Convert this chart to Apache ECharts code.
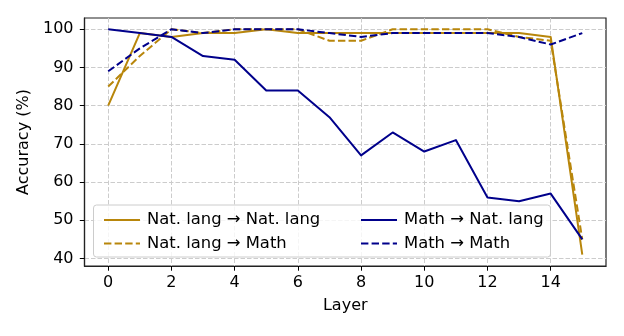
<!DOCTYPE html>
<html><head><meta charset="utf-8">
<script src="https://cdn.jsdelivr.net/npm/echarts@6/dist/echarts.min.js"></script>
<style>html,body{margin:0;padding:0;background:#fff}#c{width:624px;height:336px}</style>
</head><body><div id="c"></div>
<script>
const layers = [0,1,2,3,4,5,6,7,8,9,10,11,12,13,14,15];
const natToNat  = [80,99,98,99,99,100,99,99,99,99,99,99,99,99,98,41];
const natToMath = [85,93,100,99,100,100,100,97,97,100,100,100,100,98,97,45];
const mathToNat = [100,99,98,93,92,84,84,77,67,73,68,71,56,55,57,45];
const mathToMath= [89,95,100,99,100,100,100,99,98,99,99,99,99,98,96,99];
const xTicks = [0,2,4,6,8,10,12,14];
const yTicks = [40,50,60,70,80,90,100];
const names = ['Nat. lang → Nat. lang','Nat. lang → Math','Math → Nat. lang','Math → Math'];

const GOLD = '#b8860b', NAVY = '#00008b';
const FONT = 'DejaVu Sans';
const FS = 16, LFS = 16.4;
const dash = [7.4,3.2];
function mk(name, ys, color, dashed){
  return {name, type:'line', data: layers.map((x,i)=>[x, ys[i]]), symbol:'none',
    lineStyle:{color, width:2, type: dashed? dash : 'solid', join:'round'},
    itemStyle:{color}, animation:false};
}
const legendBase = {orient:'vertical', top:207, itemWidth:36, itemHeight:14, itemGap:7.5,
  itemStyle:{opacity:0, borderWidth:0},
  textStyle:{fontFamily:FONT, fontSize:LFS, color:'#000', padding:[0,0,0,2]}, z:10};
const chart = echarts.init(document.getElementById('c'), null, {renderer:'canvas'});
chart.setOption({
  animation:false,
  textStyle:{fontFamily:FONT},
  grid:{left:84.5, right:18, top:18, bottom:70, show:true, borderColor:'#222', borderWidth:1.2, containLabel:false},
  xAxis:{type:'value', min:-0.75, max:15.75,
    name:'Layer', nameLocation:'middle', nameGap:32, nameTextStyle:{fontFamily:FONT, fontSize:FS, color:'#000'},
    axisLine:{show:true, onZero:false, lineStyle:{color:'#222', width:1.2}},
    axisTick:{show:true, customValues:xTicks, length:4.7, lineStyle:{color:'#000', width:1}},
    axisLabel:{customValues:xTicks, fontFamily:FONT, fontSize:FS, color:'#000', margin:9},
    splitLine:{show:true, lineStyle:{color:'#cccccc', width:1, type:[4.5,2]}}},
  yAxis:{type:'value', min:38.05, max:102.95,
    name:'Accuracy (%)', nameLocation:'middle', nameGap:51, nameTextStyle:{fontFamily:FONT, fontSize:FS, color:'#000'},
    axisLine:{show:true, onZero:false, lineStyle:{color:'#222', width:1.2}},
    axisTick:{show:true, customValues:yTicks, length:4.7, lineStyle:{color:'#000', width:1}},
    axisLabel:{customValues:yTicks, fontFamily:FONT, fontSize:FS, color:'#000', margin:11},
    splitLine:{show:true, lineStyle:{color:'#cccccc', width:1, type:[4.5,2]}}},
  legend:[
    Object.assign({}, legendBase, {data:[names[0],names[1]], left:98}),
    Object.assign({}, legendBase, {data:[names[2],names[3]], left:355})
  ],
  graphic:[{type:'rect', shape:{x:93.5, y:205, width:457, height:52, r:3}, z:5,
    style:{fill:'rgba(255,255,255,0.8)', stroke:'#cccccc', lineWidth:1}}],
  series:[
    mk(names[0], natToNat, GOLD, false),
    mk(names[1], natToMath, GOLD, true),
    mk(names[2], mathToNat, NAVY, false),
    mk(names[3], mathToMath, NAVY, true)
  ]
});
</script></body></html>
